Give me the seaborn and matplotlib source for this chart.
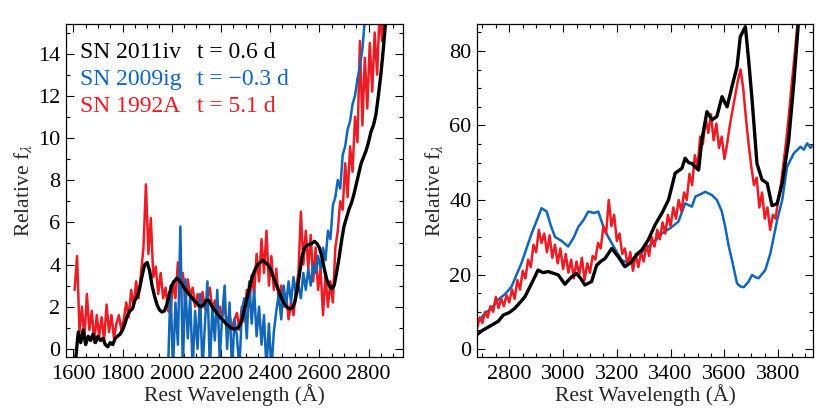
import numpy as np
import matplotlib
matplotlib.use("Agg")
import matplotlib.pyplot as plt
import seaborn as sns
from matplotlib.ticker import MultipleLocator

# ---- data (relative f_lambda vs rest wavelength) ----
# left panel, 10 A sampling
wl_k_uv = np.arange(1610, 2871, 10)
fx_k_uv = [-0.4, 0.8, 0.3, 0.9, 0.2, 0.6, 0.4, 0.7, 0.3, 0.6,
           0.4, 0.5, 0.2, 0.1, 0.3, 0.2, 0.5, 0.6, 0.7, 0.9,
           1.2, 1.6, 1.8, 1.9, 2.3, 2.5, 2.9, 3.5, 4.0, 4.1,
           3.7, 3.0, 2.5, 2.1, 1.85, 1.75, 1.8, 2.1, 2.6, 3.0,
           3.2, 3.35, 3.25, 3.1, 2.9, 2.75, 2.6, 2.45, 2.3, 2.2,
           2.05, 2.0, 2.1, 2.3, 2.3, 2.1, 1.9, 1.75, 1.6, 1.45,
           1.35, 1.2, 1.1, 1.0, 0.95, 0.95, 1.0, 1.2, 1.6, 2.1,
           2.6, 3.1, 3.5, 3.8, 4.0, 4.1, 4.2, 4.1, 4.0, 3.8,
           3.5, 3.2, 2.9, 2.6, 2.3, 2.1, 1.95, 1.9, 1.95, 2.2,
           2.8, 3.6, 4.4, 4.8, 4.9, 4.95, 5.0, 5.1, 5.0, 4.8,
           4.4, 3.8, 3.3, 3.0, 2.85, 3.0, 3.6, 4.3, 5.1, 5.8,
           6.2, 6.6, 6.9, 7.3, 7.8, 8.3, 8.8, 9.1, 9.4, 9.8,
           10.3, 10.6, 11.1, 12.0, 13.0, 14.2, 15.6]

wl_r_uv = np.arange(1605, 2866, 10)
fx_r_uv = [2.8, 4.4, 0.8, 2.0, 0.5, 2.6, 0.9, 1.8, 0.3, 1.6,
           0.6, 1.5, 0.4, 2.1, 0.8, 1.6, 0.5, 1.2, 1.6, 0.9,
           1.4, 2.2, 1.5, 2.8, 2.0, 3.2, 2.4, 3.6, 4.8, 7.8,
           4.5, 6.2, 3.4, 3.9, 2.6, 3.6, 2.4, 2.9, 1.8, 1.7,
           3.2, 2.4, 4.1, 2.8, 3.6, 2.2, 3.3, 2.5, 2.9, 2.0,
           2.6, 1.6, 2.7, 1.9, 2.4, 2.9, 1.8, 2.3, 1.4, 2.0,
           1.5, 2.0, 1.2, 1.6, 1.0, 1.4, 1.7, 0.9, 2.0, 1.3,
           2.8, 2.0, 3.5, 2.6, 4.5, 3.2, 5.2, 3.6, 5.6, 3.0,
           4.4, 2.8, 3.8, 2.2, 3.0, 2.0, 2.6, 1.4, 2.2, 1.6,
           2.8, 3.6, 6.5, 4.0, 5.6, 3.8, 5.4, 3.2, 4.8, 2.8,
           3.8, 1.6, 3.5, 2.0, 3.2, 2.2, 4.8, 5.6, 7.0, 6.6,
           8.8, 7.2, 9.6, 8.4, 11.0, 9.8, 14.6, 10.6, 13.8, 11.4,
           14.5, 12.2, 15.0, 13.0, 16.0, 14.6, 16.5]

wl_b_uv = np.arange(1985, 2796, 10)
fx_b_uv = [-1.0, 3.0, -1.0, 2.2, 0.2, 5.8, -1.0, 3.3, 0.5, 2.5,
           -1.0, 1.8, 0.0, 2.6, -1.0, 1.2, 3.2, -1.0, 2.0, 0.4,
           2.8, -0.5, 1.6, 3.0, 0.0, 2.2, -1.0, 1.4, 0.6, -1.0,
           1.8, 2.4, 0.5, 3.2, 1.2, 2.8, 0.6, 2.0, 0.2, 1.6,
           -1.0, 1.2, -1.0, 0.8, 1.8, 2.6, 1.4, 3.0, 2.0, 3.2,
           2.2, 3.4, 2.6, 3.0, 2.4, 3.6, 2.8, 3.8, 3.0, 4.0,
           3.6, 4.4, 3.8, 4.8, 4.2, 5.6, 5.2, 6.8, 7.2, 8.0,
           7.6, 9.2, 9.6, 10.4, 10.8, 11.6, 12.0, 12.8, 13.4, 14.2,
           15.6, 17.0]

# right panel
wl_k_opt = [2680, 2700, 2734, 2760, 2777, 2800, 2820, 2840, 2858, 2883,
            2907, 2925, 2945, 2965, 2982, 3007, 3032, 3050, 3065, 3081,
            3106, 3125, 3140, 3156, 3181, 3205, 3230, 3255, 3275, 3293,
            3317, 3342, 3367, 3392, 3417, 3442, 3454, 3467, 3479, 3504,
            3516, 3535, 3554, 3572, 3591, 3610, 3628, 3647, 3659, 3678,
            3690, 3703, 3721, 3740, 3759, 3777, 3796, 3815, 3839, 3858,
            3874, 3885]
fx_k_opt = [3.9, 5.0, 6.4, 7.5, 9.1, 9.8, 10.9, 12.5, 14.0, 17.6,
            21.2, 20.5, 20.8, 20.3, 19.9, 17.4, 19.4, 20.3, 19.0, 17.2,
            18.1, 22.5, 23.5, 24.3, 27.0, 24.8, 22.1, 23.4, 25.5, 26.6,
            29.3, 33.3, 36.4, 40.0, 47.2, 48.5, 51.2, 50.0, 49.8, 48.0,
            56.0, 63.7, 61.5, 62.4, 67.7, 65.0, 70.4, 75.8, 83.8, 86.5,
            77.6, 66.8, 49.8, 45.4, 44.5, 38.5, 39.0, 44.5, 56.0, 71.3,
            86.5, 95.0]

wl_b_opt = [2680, 2709, 2735, 2758, 2785, 2808, 2845, 2883, 2905, 2920,
            2939, 2955, 2970, 2995, 3019, 3040, 3057, 3075, 3094, 3115,
            3131, 3150, 3165, 3181, 3200, 3218, 3243, 3268, 3293, 3318,
            3343, 3367, 3400, 3429, 3454, 3479, 3492, 3510, 3529, 3554,
            3572, 3590, 3603, 3615, 3628, 3647, 3660, 3672, 3690, 3703,
            3715, 3727, 3752, 3771, 3796, 3815, 3833, 3858, 3883, 3895,
            3908, 3920, 3932]
fx_b_opt = [6.9, 9.6, 11.0, 13.2, 14.8, 16.7, 23.0, 31.0, 35.0, 37.8,
            36.9, 33.0, 30.1, 29.0, 27.5, 30.0, 32.8, 34.5, 36.9, 36.5,
            36.9, 32.8, 30.5, 28.4, 26.0, 23.9, 23.0, 24.8, 26.0, 27.5,
            29.0, 31.0, 32.5, 34.2, 39.1, 38.2, 40.9, 41.5, 42.2, 41.3,
            40.0, 37.0, 32.8, 28.0, 23.9, 17.6, 16.8, 16.6, 18.1, 19.9,
            19.3, 19.0, 21.2, 25.7, 34.6, 40.0, 48.9, 52.5, 54.3, 53.5,
            55.2, 54.0, 54.8]

wl_r_opt = np.arange(2680, 3881, 10)
fx_r_opt = [5.5, 8.5, 7.0, 10.0, 8.5, 11.5, 10.0, 14.0, 11.0, 13.5,
            11.5, 14.5, 12.5, 16.0, 13.5, 18.5, 16.0, 21.0, 19.0, 24.0,
            22.0, 28.0, 26.0, 32.0, 28.5, 31.0, 26.0, 30.5, 24.5, 28.0,
            23.0, 27.0, 21.5, 25.5, 20.5, 24.0, 19.0, 23.5, 20.0, 24.5,
            18.5, 23.0, 20.5, 25.0, 24.0, 28.5, 27.0, 33.0, 31.0, 40.0,
            33.0, 36.0, 29.0, 31.0, 25.5, 27.0, 22.5, 26.0, 21.0, 25.5,
            22.0, 26.0, 23.5, 28.0, 25.0, 30.0, 27.5, 32.0, 29.5, 34.0,
            31.0, 36.0, 33.0, 38.0, 35.0, 40.0, 37.0, 42.0, 40.0, 47.0,
            44.0, 52.0, 49.0, 57.0, 55.0, 62.0, 58.0, 63.0, 56.0, 60.5,
            54.0, 57.0, 51.0, 55.0, 60.0, 64.0, 68.0, 72.0, 75.0, 70.0,
            62.0, 55.0, 49.0, 44.0, 46.0, 38.0, 42.0, 35.0, 38.0, 32.0,
            36.0, 35.0, 40.0, 44.0, 50.0, 56.0, 63.0, 71.0, 78.0, 86.0,
            92.0]

names = ["SN 2011iv", "SN 2009ig", "SN 1992A"]
epochs = ["t = 0.6 d", "t = \u22120.3 d", "t = 5.1 d"]
c_black, c_blue, c_red = "black", "#1166b8", "#ec1c24"

# ---- style ----
sns.set_style("ticks")
plt.rcParams["font.family"] = ["Liberation Serif", "DejaVu Serif"]
plt.rcParams["mathtext.fontset"] = "stix"

fig = plt.figure(figsize=(8.3, 4.15), dpi=100)
ax1 = fig.add_axes([0.0795, 0.140, 0.406, 0.802])
ax2 = fig.add_axes([0.5747, 0.140, 0.405, 0.802])

#Left panel
sns.lineplot(x=wl_r_uv, y=fx_r_uv, ax=ax1, color=c_red, lw=1.8, estimator=None, sort=False)
sns.lineplot(x=wl_b_uv, y=fx_b_uv, ax=ax1, color=c_blue, lw=1.8, estimator=None, sort=False)
sns.lineplot(x=wl_k_uv, y=fx_k_uv, ax=ax1, color=c_black, lw=2.4, estimator=None, sort=False)
ax1.set_xlim(1570, 2940)
ax1.set_ylim(-0.38, 15.4)
ax1.xaxis.set_major_locator(MultipleLocator(200))
ax1.xaxis.set_minor_locator(MultipleLocator(50))
ax1.yaxis.set_major_locator(MultipleLocator(2))
ax1.yaxis.set_minor_locator(MultipleLocator(1))

#Right panel
sns.lineplot(x=wl_b_opt, y=fx_b_opt, ax=ax2, color=c_blue, lw=1.8, estimator=None, sort=False)
sns.lineplot(x=wl_r_opt, y=fx_r_opt, ax=ax2, color=c_red, lw=1.8, estimator=None, sort=False)
sns.lineplot(x=wl_k_opt, y=fx_k_opt, ax=ax2, color=c_black, lw=2.4, estimator=None, sort=False)
ax2.set_xlim(2680, 3930)
ax2.set_ylim(-2.1, 87.2)
ax2.xaxis.set_major_locator(MultipleLocator(200))
ax2.xaxis.set_minor_locator(MultipleLocator(50))
ax2.yaxis.set_major_locator(MultipleLocator(20))
ax2.yaxis.set_minor_locator(MultipleLocator(5))

for ax in (ax1, ax2):
    ax.tick_params(which="both", direction="in", top=True, right=True,
                   width=0.8, colors="black", labelsize=16)
    ax.tick_params(which="major", length=6, pad=6)
    ax.tick_params(axis="y", which="major", pad=4)
    ax.tick_params(which="minor", length=3)
    for s in ax.spines.values():
        s.set_linewidth(0.9)
        s.set_color("black")
    ax.set_xlabel("Rest Wavelength (\u00c5)", fontsize=15.5, labelpad=0)
    ax.set_ylabel(r"Relative f$_{\lambda}$", fontsize=15.5, labelpad=3)

# legend as coloured text
for i, (nm, ep, col) in enumerate(zip(names, epochs, [c_black, c_blue, c_red])):
    yy = 0.897 - i * 0.080
    ax1.text(0.042, yy, nm, transform=ax1.transAxes, color=col, fontsize=17, va="baseline")
    ax1.text(0.389, yy, ep, transform=ax1.transAxes, color=col, fontsize=17, va="baseline")

plt.savefig("out.png", dpi=100)
